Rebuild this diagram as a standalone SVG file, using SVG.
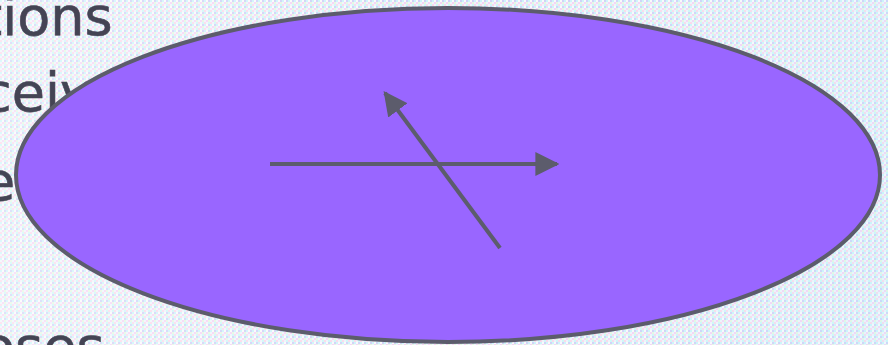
<svg xmlns="http://www.w3.org/2000/svg" width="888" height="345" viewBox="0 0 888 345">
<defs>
<pattern id="noise" width="6" height="6" patternUnits="userSpaceOnUse">
<rect width="6" height="6" fill="#eef4fb"/>
<rect x="0" y="0" width="2" height="2" fill="#ccf4fa"/>
<rect x="2" y="2" width="2" height="2" fill="#f6d2f6"/>
<rect x="4" y="0" width="2" height="2" fill="#d0d0f8"/>
<rect x="0" y="4" width="2" height="2" fill="#fbd8ea"/>
<rect x="4" y="4" width="2" height="2" fill="#ccf8f8"/>
<rect x="2" y="0" width="2" height="2" fill="#fafafa"/>
<rect x="4" y="2" width="2" height="2" fill="#e4f8e0"/>
</pattern>
<linearGradient id="tint" x1="0" y1="0" x2="1" y2="0">
<stop offset="0" stop-color="#ffffff" stop-opacity="0.35"/>
<stop offset="0.5" stop-color="#ffffff" stop-opacity="0"/>
<stop offset="1" stop-color="#c8f0ff" stop-opacity="0.2"/>
</linearGradient>
<marker id="arrow" viewBox="0 0 10 10" refX="9" refY="5" markerWidth="6" markerHeight="6.5" markerUnits="strokeWidth" orient="auto">
<path d="M0,0 L10,5 L0,10 Z" fill="#5c5c6c"/>
</marker>
</defs>
<style>
.bg-text{font-family:"DejaVu Sans",Verdana,sans-serif;font-size:54px;fill:#444454;stroke:#444454;stroke-width:0.6}
.conn{stroke:#5c5c6c;stroke-width:4;fill:none}
</style>
<rect width="888" height="345" fill="url(#noise)"/>
<rect width="888" height="345" fill="url(#tint)"/>
<g id="background-text">
<text class="bg-text" x="-19" y="35">tions</text>
<text class="bg-text" x="-18" y="111">ceiv</text>
<text class="bg-text" x="-18" y="200">e</text>
<text class="bg-text" x="-18" y="365">oses</text>
</g>
<g id="ellipse-node">
<ellipse cx="448" cy="175" rx="432" ry="167" fill="#9966ff" stroke="#5c5c6c" stroke-width="4"/>
</g>
<g id="connectors">
<line class="conn" x1="270" y1="164" x2="557" y2="164" marker-end="url(#arrow)"/>
<line class="conn" x1="500" y1="248" x2="385" y2="93" marker-end="url(#arrow)"/>
</g>
</svg>
